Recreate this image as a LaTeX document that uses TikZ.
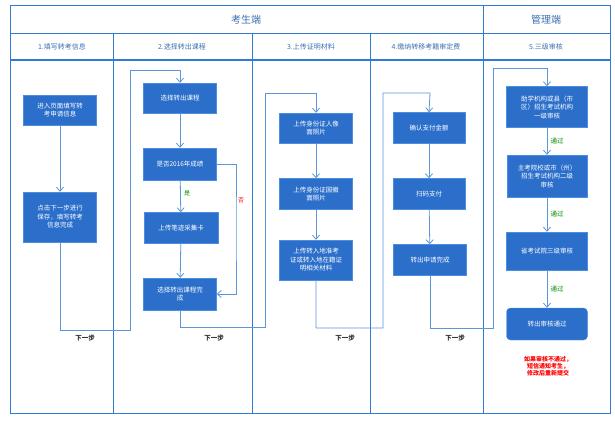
\documentclass[tikz,border=0pt]{standalone}
\usepackage{fontspec}
\setmainfont{Noto Sans CJK SC}
\usetikzlibrary{arrows.meta}
\definecolor{frame}{HTML}{2E7BD0}
\definecolor{boxf}{HTML}{2B6FCB}
\definecolor{boxd}{HTML}{4A8FE0}
\definecolor{ln}{HTML}{5B95DA}
\definecolor{hd}{HTML}{3D6FB0}
\begin{document}
\begin{tikzpicture}[x=1pt,y=-1pt,
  box/.style={draw=boxd,fill=boxf,text=white,font=\fontsize{6.5}{8.5}\selectfont,align=center,inner sep=1pt},
  conn/.style={draw=ln,line width=0.8pt,-{Straight Barb[length=4pt,width=7pt]}},
  fr/.style={draw=frame,line width=1pt},
  hdr/.style={text=hd,font=\fontsize{7}{8}\selectfont},
  pass/.style={right,text=green!55!black,font=\fontsize{6.5}{7}\selectfont},
  nextstep/.style={font=\fontsize{6.5}{8}\selectfont\bfseries,text=black!80}]
\useasboundingbox (0,0) rectangle (615,420);
% frame
\draw[fr] (10,6) rectangle (610,413);
\draw[fr] (10,34) -- (610,34);
\draw[fr] (10,60) -- (610,60);
\draw[fr] (483,6) -- (483,413);
\foreach \x in {113,252,370} \draw[fr] (\x,34) -- (\x,413);
\node[text=hd,font=\fontsize{10}{12}\selectfont] (t1) at (246,20) {考生端};
\node[text=hd,font=\fontsize{10}{12}\selectfont] (t2) at (546,20) {管理端};
\node[hdr] (h1) at (62,47) {1.填写转考信息};
\node[hdr] (h2) at (182,47) {2.选择转出课程};
\node[hdr] (h3) at (311,47) {3.上传证明材料};
\node[hdr] (h4) at (426,47) {4.缴纳转移考籍审定费};
\node[hdr] (h5) at (546,47) {5.三级审核};
% lane 1
\node[box,minimum width=73pt,minimum height=30pt] (A) at (60,110) {进入页面填写转\\考申请信息};
\node[box,minimum width=73pt,minimum height=50pt] (B) at (60,217) {点击下一步进行\\保存，填写转考\\信息完成};
% lane 2
\node[box,minimum width=73pt,minimum height=30pt] (C) at (180,98) {选择转出课程};
\node[box,minimum width=73pt,minimum height=32pt] (D) at (180,164) {是否2016年成绩};
\node[box,minimum width=74pt,minimum height=31pt] (E) at (181,228) {上传笔迹采集卡};
\node[box,minimum width=73pt,minimum height=32pt] (F) at (180,294) {选择转出课程完\\成};
% lane 3
\node[box,minimum width=73pt,minimum height=30pt] (G) at (316,128) {上传身份证人像\\面照片};
\node[box,minimum width=73pt,minimum height=31pt] (H) at (316,194) {上传身份证国徽\\面照片};
\node[box,minimum width=73pt,minimum height=40pt] (I) at (316,260) {上传转入地准考\\证或转入地在籍证\\明相关材料};
% lane 4
\node[box,minimum width=72pt,minimum height=31pt] (J) at (429,128) {确认支付金额};
\node[box,minimum width=72pt,minimum height=31pt] (K) at (429,194) {扫码支付};
\node[box,minimum width=73pt,minimum height=31pt] (L) at (430,260) {转出申请完成};
% lane 5
\node[box,minimum width=81pt,minimum height=41pt] (M) at (547,107) {助学机构或县（市\\区）招生考试机构\\一级审核};
\node[box,minimum width=80pt,minimum height=42pt] (N) at (547,176) {主考院校或市（州）\\招生考试机构二级\\审核};
\node[box,minimum width=81pt,minimum height=38pt] (O) at (547,251) {省考试院三级审核};
\node[box,rounded corners=4pt,minimum width=81pt,minimum height=32pt] (P) at (547,324) {转出审核通过};
% connectors
\draw[conn] (A) -- (B);
\draw[conn] (B.south) |- (130,330) |- (180,70) -- (C.north);
\draw[conn] (C) -- (D);
\draw[conn] (D) -- node[right,text=green!55!black,font=\fontsize{6}{7}\selectfont,pos=0.4]{是} (E);
\draw[conn] (E) -- (F);
\draw[conn] (D.east) -| (236,228) |- (F.east);
\node[text=red,font=\fontsize{6}{7}\selectfont] (no) at (241,200) {否};
\draw[conn] (F.south) |- (265,327) |- (316,93) -- (G.north);
\draw[conn] (G) -- (H);
\draw[conn] (H) -- (I);
\draw[conn] (I.south) |- (383,328) |- (430,93) -- (J.north);
\draw[conn] (J) -- (K);
\draw[conn] (K) -- (L);
\draw[conn] (L.south) |- (493,328) |- (547,68) -- (M.north);
\draw[conn] (M) -- node[pass]{通过} (N);
\draw[conn] (N) -- node[pass]{通过} (O);
\draw[conn] (O) -- node[pass]{通过} (P);
\node[nextstep] (s1) at (85,338) {下一步};
\node[nextstep] (s2) at (214,338) {下一步};
\node[nextstep] (s3) at (345,338) {下一步};
\node[nextstep] (s4) at (455,338) {下一步};
\node[text=red,font=\fontsize{6}{7}\selectfont\bfseries,align=center] (note) at (548,366) {如果审核不通过，\\短信通知考生，\\修改后重新提交};
\end{tikzpicture}
\end{document}
